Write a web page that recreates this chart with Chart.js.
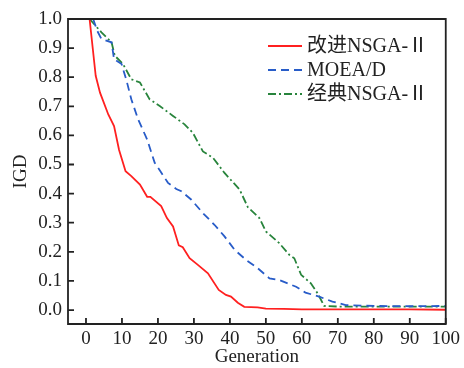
<!DOCTYPE html>
<html><head><meta charset="utf-8">
<script src="https://cdn.jsdelivr.net/npm/chart.js@4/dist/chart.umd.min.js"></script>
<style>html,body{margin:0;padding:0;background:#fff}#wrap{width:464px;height:368px}</style>
</head><body><div id="wrap"><canvas id="c" width="464" height="368"></canvas></div>
<script>
const seriesNames = ['改进NSGA-Ⅱ', 'MOEA/D', '经典NSGA-Ⅱ'];
const redGen = [1, 2.7, 3.9, 6.2, 7.8, 9.2, 11, 12.6, 15, 17, 17.9, 20.9, 22.5, 24.2, 25.8, 26.9, 28.8, 31.1, 33.9, 36.9, 38.9, 40.3, 42.2, 44, 47.7, 50, 55, 60, 70, 80, 90, 100];
const redIGD = [1.0, 0.805, 0.747, 0.672, 0.632, 0.55, 0.477, 0.46, 0.431, 0.389, 0.389, 0.357, 0.316, 0.287, 0.222, 0.216, 0.178, 0.155, 0.126, 0.069, 0.052, 0.046, 0.025, 0.011, 0.009, 0.005, 0.004, 0.002, 0.002, 0.002, 0.002, 0.001];
const blueGen = [2, 3.1, 4.3, 7.1, 7.8, 9.9, 11.3, 12.6, 14.5, 17, 19.1, 20.5, 22.8, 25.1, 26.5, 29.3, 32.5, 35.7, 38.5, 41.3, 44.5, 47.7, 51, 53.7, 58.4, 61, 64.8, 68.5, 72.2, 80, 90, 100];
const blueIGD = [1.0, 0.96, 0.931, 0.92, 0.862, 0.845, 0.787, 0.724, 0.655, 0.586, 0.506, 0.48, 0.437, 0.416, 0.408, 0.379, 0.333, 0.293, 0.253, 0.207, 0.172, 0.144, 0.109, 0.103, 0.08, 0.06, 0.046, 0.029, 0.017, 0.014, 0.013, 0.014];
const greenGen = [1, 4.3, 7.1, 8, 10.3, 12.6, 15, 17.7, 20.5, 24.2, 27.4, 29.7, 32.5, 35.3, 37.1, 38.5, 42.7, 45, 48.2, 50, 53.7, 56.5, 57.9, 59.8, 62.5, 64.4, 66.2, 70, 80, 90, 100];
const greenIGD = [1.0, 0.954, 0.92, 0.874, 0.845, 0.793, 0.782, 0.724, 0.701, 0.667, 0.638, 0.609, 0.545, 0.523, 0.494, 0.471, 0.414, 0.353, 0.316, 0.27, 0.23, 0.19, 0.178, 0.121, 0.092, 0.057, 0.014, 0.012, 0.012, 0.012, 0.012];
const xTicks = [0, 10, 20, 30, 40, 50, 60, 70, 80, 90, 100];
const yTicks = [0.0, 0.1, 0.2, 0.3, 0.4, 0.5, 0.6, 0.7, 0.8, 0.9, 1.0];

const colors = ['rgb(255,32,32)', 'rgb(40,92,200)', 'rgb(40,132,60)'];
const dashes = [[], [8, 5], [8, 3, 2, 3]];
const serif = "'Liberation Serif', 'Noto Sans CJK SC', serif";

function pts(g, v) { return g.map((x, i) => ({x: x, y: v[i]})); }
const gens = [redGen, blueGen, greenGen];
const vals = [redIGD, blueIGD, greenIGD];

const frame = {
  id: 'frame',
  afterDraw(chart) {
    const {ctx, chartArea: a, scales} = chart;
    ctx.save();
    ctx.strokeStyle = '#222';
    ctx.lineWidth = 1.8;
    ctx.beginPath();
    ctx.rect(a.left, a.top, a.right - a.left, a.bottom - a.top);
    ctx.stroke();
    ctx.beginPath();
    xTicks.forEach(t => { const x = scales.x.getPixelForValue(t); ctx.moveTo(x, a.bottom); ctx.lineTo(x, a.bottom - 6); });
    yTicks.forEach(t => { const y = scales.y.getPixelForValue(t); ctx.moveTo(a.left, y); ctx.lineTo(a.left + 6, y); });
    ctx.stroke();
    // legend
    ctx.font = '20px ' + serif;
    ctx.textBaseline = 'middle';
    ctx.fillStyle = '#222';
    const rowsY = [46, 70, 94];
    seriesNames.forEach((n, i) => {
      ctx.strokeStyle = colors[i];
      ctx.lineWidth = 1.8;
      ctx.setLineDash(dashes[i]);
      ctx.beginPath();
      ctx.moveTo(268, rowsY[i]); ctx.lineTo(302, rowsY[i]);
      ctx.stroke();
      ctx.setLineDash([]);
      ctx.fillText(n, 307, rowsY[i] + 1);
    });
    ctx.restore();
  }
};

new Chart(document.getElementById('c'), {
  type: 'line',
  data: {
    datasets: seriesNames.map((n, i) => ({
      label: n,
      data: pts(gens[i], vals[i]),
      borderColor: colors[i],
      borderDash: dashes[i],
      borderWidth: 1.8,
      pointRadius: 0,
      tension: 0,
      fill: false
    }))
  },
  options: {
    responsive: false,
    animation: false,
    layout: {padding: {top: 19, right: 17, left: 0, bottom: 0}},
    plugins: {legend: {display: false}, tooltip: {enabled: false}},
    scales: {
      x: {
        type: 'linear', min: -5, max: 100,
        afterBuildTicks: s => { s.ticks = xTicks.map(v => ({value: v})); },
        afterFit: s => { s.height = 44; },
        grid: {display: false, drawTicks: false},
        border: {display: false},
        ticks: {color: '#222', padding: 4, maxRotation: 0, autoSkip: false, font: {family: serif, size: 19}},
        title: {display: true, text: 'Generation', color: '#222', padding: 0, font: {family: serif, size: 19}}
      },
      y: {
        type: 'linear', min: -0.048, max: 1.0,
        afterBuildTicks: s => { s.ticks = yTicks.map(v => ({value: v})); },
        afterFit: s => { s.width = 68; },
        grid: {display: false, drawTicks: false},
        border: {display: false},
        ticks: {color: '#222', padding: 6, autoSkip: false, font: {family: serif, size: 19}, callback: v => Number(v).toFixed(1)},
        title: {display: true, text: 'IGD', color: '#222', padding: {top: 10, bottom: 0}, font: {family: serif, size: 19}}
      }
    }
  },
  plugins: [frame]
});
</script></body></html>
